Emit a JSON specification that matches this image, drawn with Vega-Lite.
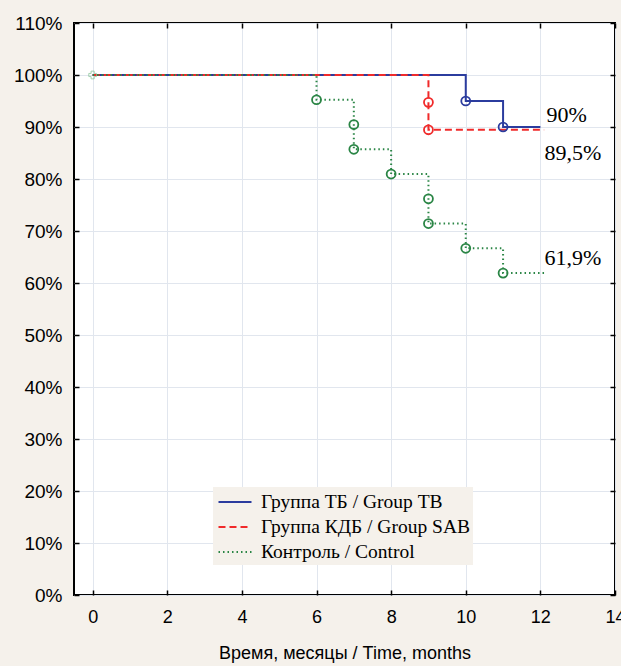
{
  "$schema": "https://vega.github.io/schema/vega-lite/v6.json",
  "width": 541,
  "height": 572,
  "autosize": {"type": "none"},
  "padding": {"left": 74, "top": 23, "right": 6, "bottom": 71},
  "background": "#f5f1eb",
  "config": {
    "view": {"fill": "white", "stroke": "black", "strokeWidth": 2},
    "axis": {"labelFont": "Liberation Sans", "titleFont": "Liberation Sans", "labelColor": "black", "titleColor": "black"}
  },
  "datasets": {
    "lines": [
      {"group": "Группа ТБ / Group ТВ", "time": 0, "surv": 100},
      {"group": "Группа ТБ / Group ТВ", "time": 10, "surv": 95},
      {"group": "Группа ТБ / Group ТВ", "time": 11, "surv": 90},
      {"group": "Группа ТБ / Group ТВ", "time": 12, "surv": 90},
      {"group": "Группа КДБ / Group SAB", "time": 0, "surv": 100},
      {"group": "Группа КДБ / Group SAB", "time": 9, "surv": 89.47},
      {"group": "Группа КДБ / Group SAB", "time": 12.1, "surv": 89.47},
      {"group": "Контроль / Control", "time": 0, "surv": 100},
      {"group": "Контроль / Control", "time": 6, "surv": 95.24},
      {"group": "Контроль / Control", "time": 7, "surv": 85.71},
      {"group": "Контроль / Control", "time": 8, "surv": 80.95},
      {"group": "Контроль / Control", "time": 9, "surv": 71.43},
      {"group": "Контроль / Control", "time": 10, "surv": 66.67},
      {"group": "Контроль / Control", "time": 11, "surv": 61.9},
      {"group": "Контроль / Control", "time": 12.1, "surv": 61.9}
    ],
    "events": [
      {"group": "Группа ТБ / Group ТВ", "time": 10, "surv": 95},
      {"group": "Группа ТБ / Group ТВ", "time": 11, "surv": 90},
      {"group": "Группа КДБ / Group SAB", "time": 9, "surv": 94.74},
      {"group": "Группа КДБ / Group SAB", "time": 9, "surv": 89.47},
      {"group": "Контроль / Control", "time": 6, "surv": 95.24},
      {"group": "Контроль / Control", "time": 7, "surv": 90.48},
      {"group": "Контроль / Control", "time": 7, "surv": 85.71},
      {"group": "Контроль / Control", "time": 8, "surv": 80.95},
      {"group": "Контроль / Control", "time": 9, "surv": 76.19},
      {"group": "Контроль / Control", "time": 9, "surv": 71.43},
      {"group": "Контроль / Control", "time": 10, "surv": 66.67},
      {"group": "Контроль / Control", "time": 11, "surv": 61.9}
    ],
    "labels": [
      {"time": 12, "surv": 90, "label": "90%"},
      {"time": 12, "surv": 89.5, "label": "89,5%"},
      {"time": 12, "surv": 61.9, "label": "61,9%"}
    ]
  },
  "layer": [
    {
      "data": {"name": "lines"},
      "mark": {"type": "line", "interpolate": "step-after", "strokeWidth": 2},
      "encoding": {
        "x": {
          "field": "time", "type": "quantitative",
          "scale": {"domain": [-0.5, 14], "nice": false, "zero": false},
          "axis": {
            "orient": "bottom", "values": [0, 2, 4, 6, 8, 10, 12, 14],
            "title": "Время, месяцы / Time, months", "titleFontSize": 18, "titleFontWeight": "normal", "titlePadding": 18,
            "labelFontSize": 18, "labelPadding": 18, "tickSize": -5, "tickColor": "black", "tickWidth": 1.5,
            "domain": false, "grid": true, "gridColor": "#e1e6ee", "gridWidth": 1, "labelFlush": false, "labelOverlap": false
          }
        },
        "y": {
          "field": "surv", "type": "quantitative",
          "scale": {"domain": [0, 110], "nice": false},
          "axis": {
            "orient": "left", "values": [0, 10, 20, 30, 40, 50, 60, 70, 80, 90, 100, 110],
            "labelExpr": "datum.value + '%'", "title": null,
            "labelFontSize": 19, "labelPadding": 17, "tickSize": -5, "tickColor": "black", "tickWidth": 1.5,
            "domain": false, "grid": true, "gridColor": "#e1e6ee", "gridWidth": 1, "labelFlush": false, "labelOverlap": false
          }
        },
        "color": {
          "field": "group", "type": "nominal",
          "scale": {"domain": ["Группа ТБ / Group ТВ", "Группа КДБ / Group SAB", "Контроль / Control"], "range": ["#2b3c9e", "#f02a2a", "#2a8545"]},
          "legend": {
            "title": null, "orient": "none", "legendX": 139, "legendY": 464,
            "fillColor": "#f5f1eb", "padding": 3, "labelFont": "Liberation Serif", "labelFontSize": 19.5, "labelColor": "black", "labelLimit": 400,
            "symbolType": "M-1.5,0L1.5,0", "symbolSize": 484, "symbolStrokeWidth": 2, "symbolFillColor": "transparent", "symbolOffset": 7,
            "labelOffset": 14, "rowPadding": 3
          }
        },
        "strokeDash": {
          "field": "group", "type": "nominal",
          "scale": {"domain": ["Группа ТБ / Group ТВ", "Группа КДБ / Group SAB", "Контроль / Control"], "range": [[1, 0], [7, 4], [1.5, 3]]},
          "legend": {
            "title": null, "orient": "none", "legendX": 139, "legendY": 464,
            "fillColor": "#f5f1eb", "padding": 3, "labelFont": "Liberation Serif", "labelFontSize": 19.5, "labelColor": "black", "labelLimit": 400,
            "symbolType": "M-1.5,0L1.5,0", "symbolSize": 484, "symbolStrokeWidth": 2, "symbolFillColor": "transparent", "symbolOffset": 7,
            "labelOffset": 14, "rowPadding": 3
          }
        }
      }
    },
    {
      "data": {"name": "events"},
      "mark": {"type": "point", "shape": "circle", "filled": false, "size": 80, "strokeWidth": 1.8, "opacity": 1},
      "encoding": {
        "x": {"field": "time", "type": "quantitative", "axis": null},
        "y": {"field": "surv", "type": "quantitative", "axis": null},
        "color": {"field": "group", "type": "nominal", "legend": null}
      }
    },
    {
      "data": {"values": [{"time": 0, "surv": 100}]},
      "mark": {"type": "point", "shape": "cross", "filled": false, "size": 60, "strokeWidth": 1, "color": "#7fbf8f"},
      "encoding": {
        "x": {"field": "time", "type": "quantitative", "axis": null},
        "y": {"field": "surv", "type": "quantitative", "axis": null}
      }
    },
    {
      "data": {"name": "labels"},
      "transform": [{"filter": "datum.label == '90%'"}],
      "mark": {"type": "text", "align": "left", "baseline": "middle", "dx": 6, "dy": -12, "font": "Liberation Serif", "fontSize": 22, "color": "black"},
      "encoding": {
        "x": {"field": "time", "type": "quantitative", "axis": null},
        "y": {"field": "surv", "type": "quantitative", "axis": null},
        "text": {"field": "label"}
      }
    },
    {
      "data": {"name": "labels"},
      "transform": [{"filter": "datum.label == '89,5%'"}],
      "mark": {"type": "text", "align": "left", "baseline": "middle", "dx": 4, "dy": 23, "font": "Liberation Serif", "fontSize": 22, "color": "black"},
      "encoding": {
        "x": {"field": "time", "type": "quantitative", "axis": null},
        "y": {"field": "surv", "type": "quantitative", "axis": null},
        "text": {"field": "label"}
      }
    },
    {
      "data": {"name": "labels"},
      "transform": [{"filter": "datum.label == '61,9%'"}],
      "mark": {"type": "text", "align": "left", "baseline": "middle", "dx": 4, "dy": -15, "font": "Liberation Serif", "fontSize": 22, "color": "black"},
      "encoding": {
        "x": {"field": "time", "type": "quantitative", "axis": null},
        "y": {"field": "surv", "type": "quantitative", "axis": null},
        "text": {"field": "label"}
      }
    },
    {
      "data": {"name": "lines"},
      "mark": {"type": "point", "opacity": 0},
      "encoding": {
        "x": {"field": "time", "type": "quantitative",
          "axis": {"orient": "top", "values": [0, 2, 4, 6, 8, 10, 12, 14], "labels": false, "title": null, "domain": false, "grid": false, "tickSize": -5, "tickColor": "black", "tickWidth": 1.5}},
        "y": {"field": "surv", "type": "quantitative",
          "axis": {"orient": "right", "values": [0, 10, 20, 30, 40, 50, 60, 70, 80, 90, 100, 110], "labels": false, "title": null, "domain": false, "grid": false, "tickSize": -5, "tickColor": "black", "tickWidth": 1.5}}
      }
    }
  ],
  "resolve": {"axis": {"x": "independent", "y": "independent"}}
}
